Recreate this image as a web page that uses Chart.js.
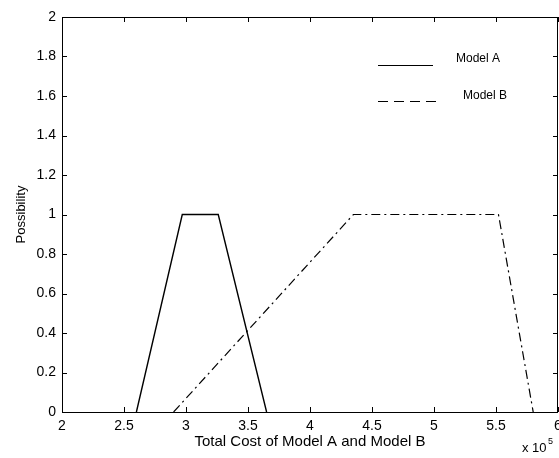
<!DOCTYPE html>
<html><head><meta charset="utf-8">
<script src="https://cdn.jsdelivr.net/npm/chart.js@4/dist/chart.umd.min.js"></script>
<style>html,body{margin:0;padding:0;background:#fff}#wrap{width:559px;height:458px}</style>
</head><body><div id="wrap"><canvas id="c" width="559" height="458"></canvas></div>
<script>
const modelAX = [2.6, 2.97, 3.26, 3.65];
const modelAY = [0, 1, 1, 0];
const modelBX = [2.9, 4.35, 5.52, 5.8];
const modelBY = [0, 1, 1, 0];
const seriesNames = ['Model A', 'Model B'];
const xTitle = 'Total Cost of Model A and Model B';
const yTitle = 'Possibility';

const toPts = (xs, ys) => xs.map((x, i) => ({x, y: ys[i]}));
const FONT = 'Liberation Sans, Arial, sans-serif';

const framePlugin = {
  id: 'frame',
  afterDraw(chart) {
    const {ctx, chartArea: a, scales: {x, y}} = chart;
    ctx.save();
    ctx.strokeStyle = '#000';
    ctx.lineWidth = 1;
    ctx.strokeRect(a.left + 0.5, a.top + 0.5, a.right - a.left - 1, a.bottom - a.top);
    const L = 5;
    ctx.beginPath();
    x.ticks.forEach(t => {
      const px = Math.round(x.getPixelForValue(t.value)) + 0.5;
      ctx.moveTo(px, a.bottom); ctx.lineTo(px, a.bottom - L);
      ctx.moveTo(px, a.top); ctx.lineTo(px, a.top + L);
    });
    y.ticks.forEach(t => {
      const py = Math.round(y.getPixelForValue(t.value)) + 0.5;
      ctx.moveTo(a.left, py); ctx.lineTo(a.left + L, py);
      ctx.moveTo(a.right, py); ctx.lineTo(a.right - L, py);
    });
    ctx.stroke();
    // legend
    ctx.font = '12px ' + FONT;
    ctx.fillStyle = '#000';
    ctx.textBaseline = 'middle';
    ctx.lineWidth = 1;
    ctx.beginPath(); ctx.moveTo(378, 65.5); ctx.lineTo(433, 65.5); ctx.stroke();
    ctx.fillText(seriesNames[0], 456, 59);
    ctx.setLineDash([10, 6]);
    ctx.beginPath(); ctx.moveTo(378, 101.5); ctx.lineTo(440, 101.5); ctx.stroke();
    ctx.setLineDash([]);
    ctx.fillText(seriesNames[1], 463, 96);
    // exponent
    ctx.textBaseline = 'alphabetic';
    ctx.font = '13px ' + FONT;
    ctx.fillText('x 10', 522, 452);
    ctx.font = '9px ' + FONT;
    ctx.fillText('5', 548, 444);
    ctx.restore();
  }
};

new Chart(document.getElementById('c'), {
  type: 'scatter',
  data: {
    datasets: [
      {label: seriesNames[0], data: toPts(modelAX, modelAY), showLine: true, borderColor: '#000', borderWidth: 1.4, pointRadius: 0, tension: 0},
      {label: seriesNames[1], data: toPts(modelBX, modelBY), showLine: true, borderColor: '#000', borderWidth: 1.2, borderDash: [9, 4, 2, 4], pointRadius: 0, tension: 0}
    ]
  },
  options: {
    responsive: false,
    animation: false,
    layout: {padding: {left: 0, right: 1, top: 17, bottom: 0}},
    plugins: {legend: {display: false}, tooltip: {enabled: false}},
    scales: {
      x: {
        type: 'linear', min: 2, max: 6,
        border: {display: false},
        grid: {drawOnChartArea: false, drawTicks: false},
        ticks: {stepSize: 0.5, maxRotation: 0, autoSkip: false, padding: 6, color: '#000', font: {family: FONT, size: 14},
          callback: v => String(v)},
        title: {display: true, text: xTitle, color: '#000', font: {family: FONT, size: 15}, padding: {top: 0, bottom: 7}},
        afterFit(s) { s.height = 46; s.paddingLeft = 0; s.paddingRight = 0; }
      },
      y: {
        min: 0, max: 2,
        border: {display: false},
        grid: {drawOnChartArea: false, drawTicks: false},
        ticks: {stepSize: 0.2, autoSkip: false, padding: 6, color: '#000', font: {family: FONT, size: 14},
          callback: v => String(Math.round(v * 10) / 10)},
        title: {display: true, text: yTitle, color: '#000', font: {family: FONT, size: 13}, padding: {top: 14, bottom: 0}},
        afterFit(s) { s.width = 62; }
      }
    }
  },
  plugins: [framePlugin]
});
</script>
</body></html>
